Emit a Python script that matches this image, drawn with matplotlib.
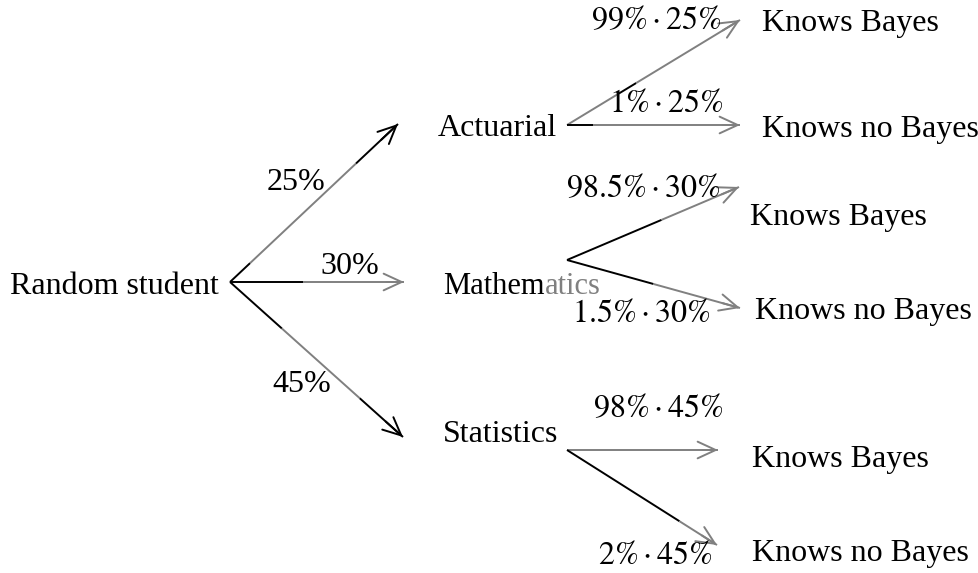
import matplotlib
matplotlib.use("Agg")
import matplotlib.pyplot as plt

plt.rcParams["font.family"] = ["Liberation Serif", "DejaVu Serif"]
plt.rcParams["mathtext.fontset"] = "stix"

BLACK = "black"
GRAY = "#808080"

# nodes (pixel coordinates of the picture, y downward)
root_label = "Random student"
root_xy = (230, 282)

levels = ["Actuarial", "Mathematics", "Statistics"]
level_probs = ["25%", "30%", "45%"]
level_tips = [(398, 124), (404, 282), (403, 437)]
level_text_xy = [(438, 129), (443, 287), (443, 434)]
level_prob_xy = [(296, 182), (350, 267), (302, 384)]
level_starts = [(567, 125), (567, 260), (567, 450)]

leaf_labels = ["Knows Bayes", "Knows no Bayes"]
leaf_probs = [
    [r"$99\%\cdot25\%$", r"$1\%\cdot25\%$"],
    [r"$98.5\%\cdot30\%$", r"$1.5\%\cdot30\%$"],
    [r"$98\%\cdot45\%$", r"$2\%\cdot45\%$"],
]
leaf_tips = [
    [(740, 20), (740, 125)],
    [(739, 187), (740, 308)],
    [(718, 450), (717, 545)],
]
leaf_text_xy = [
    [(762, 24), (762, 129)],
    [(750, 217), (755, 312)],
    [(752, 459), (752, 554)],
]
leaf_prob_xy = [
    [(656, 22), (666, 105)],
    [(643, 190), (641, 315)],
    [(658, 410), (655, 557)],
]

# colour segments along each arrow (start fraction, end fraction, colour)
root_segs = [
    [(0, 0.12, BLACK), (0.12, 0.75, GRAY), (0.75, 1, BLACK)],
    [(0, 0.42, BLACK), (0.42, 1, GRAY)],
    [(0, 0.3, BLACK), (0.3, 0.75, GRAY), (0.75, 1, BLACK)],
]
leaf_segs = [
    [[(0, 0.3, GRAY), (0.3, 0.4, BLACK), (0.4, 1, GRAY)], [(0, 0.15, BLACK), (0.15, 1, GRAY)]],
    [[(0, 0.55, BLACK), (0.55, 1, GRAY)], [(0, 0.5, BLACK), (0.5, 1, GRAY)]],
    [[(0, 1, GRAY)], [(0, 0.75, BLACK), (0.75, 1, GRAY)]],
]

fig = plt.figure(figsize=(9.79, 5.73), dpi=100)
ax = fig.add_axes([0, 0, 1, 1])
ax.set_xlim(0, 979)
ax.set_ylim(573, 0)
ax.axis("off")

FS = 23


def draw_arrow(start, end, segs, head_color):
    x0, y0 = start
    x1, y1 = end
    for a, b, c in segs:
        ax.plot([x0 + (x1 - x0) * a, x0 + (x1 - x0) * b],
                [y0 + (y1 - y0) * a, y0 + (y1 - y0) * b],
                color=c, lw=1.4, solid_capstyle="butt")
    ax.annotate("", xy=end, xytext=(x0 + (x1 - x0) * 0.9, y0 + (y1 - y0) * 0.9),
                arrowprops=dict(arrowstyle="->,head_length=1.3,head_width=0.6",
                                color=head_color, lw=1.4, shrinkA=0, shrinkB=0))


ax.text(10, root_xy[1] + 4, root_label, fontsize=FS, va="center", ha="left")

for i, name in enumerate(levels):
    draw_arrow(root_xy, level_tips[i], root_segs[i], root_segs[i][-1][2])
    ax.text(*level_prob_xy[i], level_probs[i], fontsize=FS, ha="center", va="center")
    if name == "Mathematics":
        t = ax.text(*level_text_xy[i], "Mathem", fontsize=FS - 1, ha="left", va="center")
        fig.canvas.draw()
        bb = t.get_window_extent().transformed(ax.transData.inverted())
        ax.text(bb.x1, level_text_xy[i][1], "atics", fontsize=FS - 1, ha="left",
                va="center", color=GRAY)
    else:
        ax.text(*level_text_xy[i], name, fontsize=FS, ha="left", va="center")
    for j in range(2):
        draw_arrow(level_starts[i], leaf_tips[i][j], leaf_segs[i][j], leaf_segs[i][j][-1][2])
        ax.text(*leaf_prob_xy[i][j], leaf_probs[i][j], fontsize=FS, ha="center", va="center")
        ax.text(*leaf_text_xy[i][j], leaf_labels[j], fontsize=FS, ha="left", va="center")

fig.savefig("out.png", dpi=100)
